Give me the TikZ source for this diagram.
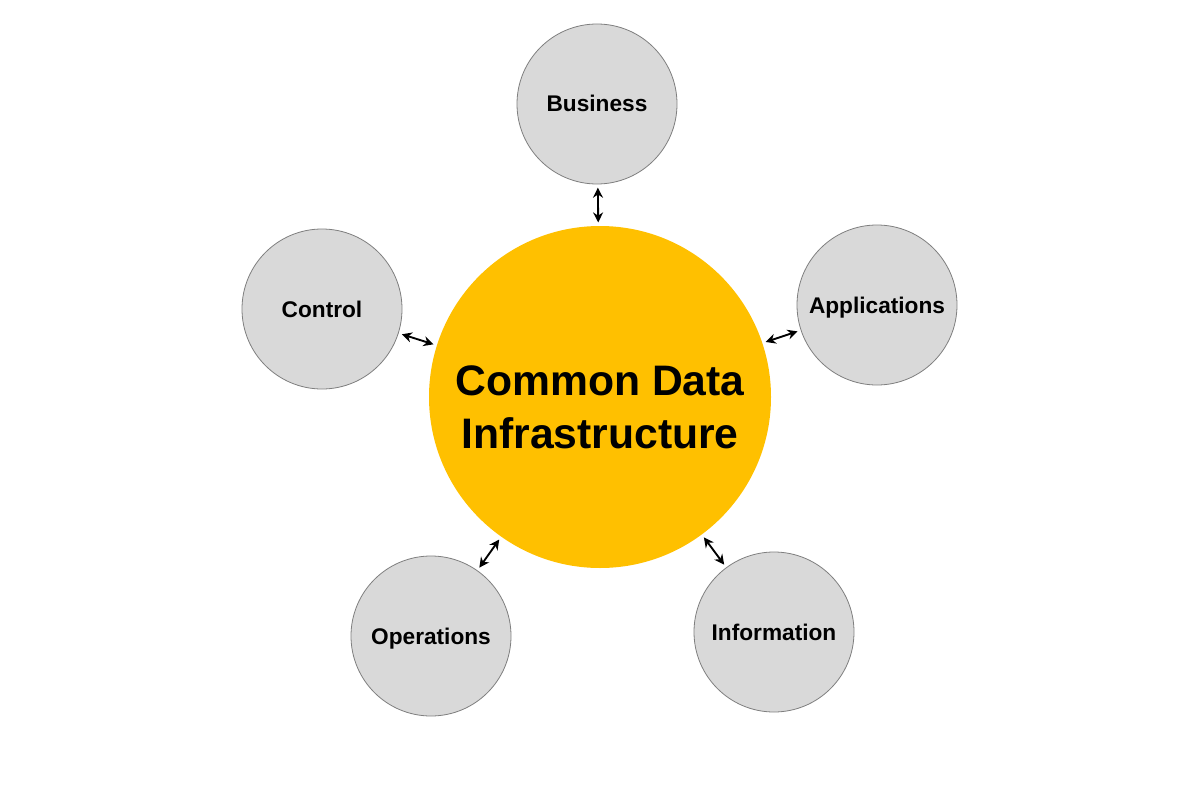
\documentclass[tikz,border=0pt]{standalone}
\usepackage{fontspec}
\setmainfont{Liberation Sans}
\usepackage{xcolor}
\usepackage{tikz}
\usetikzlibrary{arrows.meta}
\definecolor{corec}{HTML}{FFC000}
\definecolor{satc}{HTML}{D9D9D9}
\definecolor{edgec}{HTML}{7F7F7F}
\tikzset{
  ar/.style={{Stealth[length=7.5pt,width=7.5pt]}-{Stealth[length=7.5pt,width=7.5pt]},line width=1.4pt,black,shorten >=2.5pt,shorten <=2.5pt},
  core/.style={circle,fill=corec,minimum size=256.5pt,inner sep=0pt},
  sat/.style={circle,draw=edgec,line width=0.6pt,fill=satc,minimum size=120pt,inner sep=0pt,text height=12pt,text depth=0pt,font=\fontsize{17}{20}\selectfont\bfseries}
}
\begin{document}
\begin{tikzpicture}[x=0.75pt,y=-0.75pt]
\useasboundingbox (0,0) rectangle (1200,792);
\node[core] (cdi) at (600,397) {};
\node[align=center,font=\fontsize{32}{40}\selectfont\bfseries] (cdilbl) at (600,407) {Common Data\\Infrastructure};
\foreach \n/\x/\y/\t in {bus/597/104/Business,ctl/322/309/Control,app/877/305/Applications,ops/431/636/Operations,inf/774/632/Information}{
 \node[sat] (\n) at (\x,\y) {\t};
 \draw[ar] (cdi) -- (\n);}
\end{tikzpicture}
\end{document}
